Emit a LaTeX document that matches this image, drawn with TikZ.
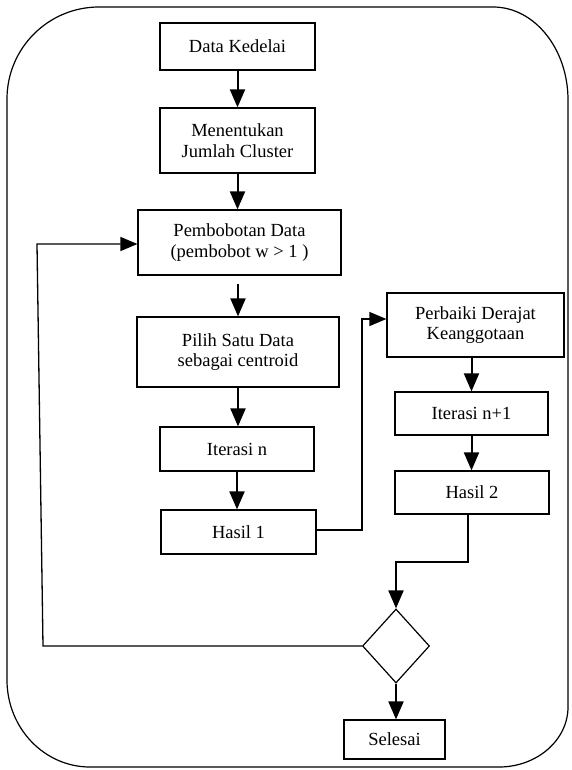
\documentclass[tikz,border=0pt]{standalone}
\usepackage{fontspec}
\setmainfont{Liberation Serif}
\usetikzlibrary{arrows.meta,shapes.geometric}
\begin{document}
\begin{tikzpicture}[x=1pt,y=-1pt,
  box/.style={draw,line width=1.2pt,inner sep=0pt,align=center,font=\fontsize{18.5}{20.5}\selectfont},
  thickarrow/.style={line width=2pt,-{Triangle[width=15pt,length=18pt]}},
  thinarrow/.style={line width=1.3pt,-{Triangle[width=14pt,length=17pt]}},
  frame/.style={line width=1.2pt},
]
\useasboundingbox (0,0) rectangle (572,770);
% outer frame
\draw[frame] (7,99) .. controls (7,48.2) and (48.2,7) .. (99,7)
  -- (493,7) .. controls (534.4,7) and (568,48.7) .. (568,100)
  -- (568,707) .. controls (568,740) and (537,767) .. (499,767)
  -- (90,767) .. controls (44.2,767) and (7,728) .. (7,680) -- cycle;
% nodes
\node[box,minimum width=155pt,minimum height=47pt] (d1) at (237.5,46.5) {Data Kedelai};
\node[box,minimum width=155pt,minimum height=65pt] (d2) at (237.5,140.5) {Menentukan\\Jumlah Cluster};
\node[box,minimum width=203pt,minimum height=65pt] (d3) at (239.5,242.5) {Pembobotan Data\\(pembobot w > 1 )};
\node[box,minimum width=202pt,minimum height=70pt] (d4) at (238,352) {Pilih Satu Data\\sebagai centroid};
\node[box,minimum width=154pt,minimum height=44pt] (d5) at (237,449) {Iterasi n};
\node[box,minimum width=155pt,minimum height=44pt] (d6) at (238.5,532) {Hasil 1};
\node[box,minimum width=177pt,minimum height=64pt] (d7) at (475.5,325) {Perbaiki Derajat\\Keanggotaan};
\node[box,minimum width=153pt,minimum height=43pt] (d8) at (471.5,413.5) {Iterasi n+1};
\node[box,minimum width=154pt,minimum height=43pt] (d9) at (472,492.5) {Hasil 2};
\node[draw,diamond,line width=1.2pt,inner sep=0pt,minimum width=67pt,minimum height=74pt] (dia) at (396,646) {};
\node[box,minimum width=101pt,minimum height=39pt] (sel) at (394.5,739.5) {Selesai};
% coordinates
\coordinate (c1) at (362,530);
\coordinate (c2) at (362,319);
\coordinate (c3) at (468,562);
\coordinate (c4) at (43,646);
\coordinate (c5) at (37,244);
% connectors
\draw[thickarrow] (d1.south) -- (d2.north);
\draw[thickarrow] (d2.south) -- (d2.south |- d3.north);
\draw[thickarrow] ([yshift=-8pt]d4.north |- d3.south) -- (d4.north);
\draw[thickarrow] (d4.south) -- (d4.south |- d5.north);
\draw[thickarrow] (d5.south) -- (d5.south |- d6.north);
\draw[thickarrow] (d8.north |- d7.south) -- (d8.north);
\draw[thickarrow] (d8.south) -- (d8.south |- d9.north);
\draw[thinarrow] (c1 -| d6.east) -- (c1) -- (c2) -- (c2 -| d7.west);
\draw[thickarrow] (c3 |- d9.south) -- (c3) -- (c3 -| dia.north) -- (dia.north);
\draw[thickarrow] (dia.south) -- (dia.south |- sel.north);
\draw[thinarrow] (dia.west) -- (c4) -- (c5) -- (c5 -| d3.west);
\end{tikzpicture}
\end{document}
